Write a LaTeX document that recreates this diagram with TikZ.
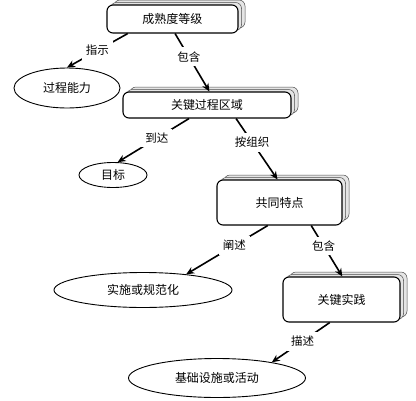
\documentclass[tikz,border=0pt]{standalone}
\usepackage{fontspec}
\newfontfamily\cjk{Noto Sans CJK SC}
\usetikzlibrary{shapes.geometric,arrows.meta,shadows}

\begin{document}
\begin{tikzpicture}[
  x=1pt, y=-1pt,
  card/.style={rectangle, draw, line width=1.1pt, rounded corners=6pt,
               fill=white, minimum width=#1, font=\cjk\fontsize{12}{14}\selectfont,
               double copy shadow={shadow xshift=3.5pt, shadow yshift=2.5pt,
                                   draw=black!70, line width=0.5pt, fill=black!10}},
  card/.default={130pt},
  oval/.style={ellipse, draw, line width=0.9pt, inner sep=0pt,
               font=\cjk\fontsize{12}{14}\selectfont},
  arrow/.style={-{Stealth[length=8pt, width=7pt]}, line width=1.6pt},
  note/.style={fill=white, inner sep=4pt, font=\cjk\fontsize{11.5}{13}\selectfont}
]
  \useasboundingbox (0,0) rectangle (416,400);

  % boxes
  \node[card=131pt, minimum height=28pt] (level) at (172.5,19) {成熟度等级};
  \node[card=168pt, minimum height=26pt] (kpa) at (207,105) {关键过程区域};
  \node[card=125pt, minimum height=45pt] (common) at (279.5,202.5) {共同特点};
  \node[card=117pt, minimum height=45pt] (practice) at (341.5,299.5) {关键实践};

  % ellipses
  \node[oval, minimum width=106pt, minimum height=40pt] (ability) at (67,88) {过程能力};
  \node[oval, minimum width=68pt, minimum height=25pt] (goal) at (113,175) {目标};
  \node[oval, minimum width=178pt, minimum height=35pt] (impl) at (143,290) {实施或规范化};
  \node[oval, minimum width=177pt, minimum height=39pt] (infra) at (217,378) {基础设施或活动};

  % connectors
  \draw[arrow] (level.198) -- node[note, pos=0.5]{指示} (ability.north);
  \draw[arrow] (level.-80) -- node[note, pos=0.4]{包含} (kpa.80);
  \draw[arrow] (kpa.217) -- node[note, pos=0.45]{到达} (goal.70);
  \draw[arrow] (kpa.-25) -- node[note, pos=0.39]{按组织} (common.95);
  \draw[arrow] (common.243) -- node[note, pos=0.41]{阐述} (impl.20);
  \draw[arrow] (common.-36) -- node[note, pos=0.4]{包含} (practice.88);
  \draw[arrow] (practice.243) -- node[note, pos=0.47]{描述} (infra.16);
\end{tikzpicture}
\end{document}
